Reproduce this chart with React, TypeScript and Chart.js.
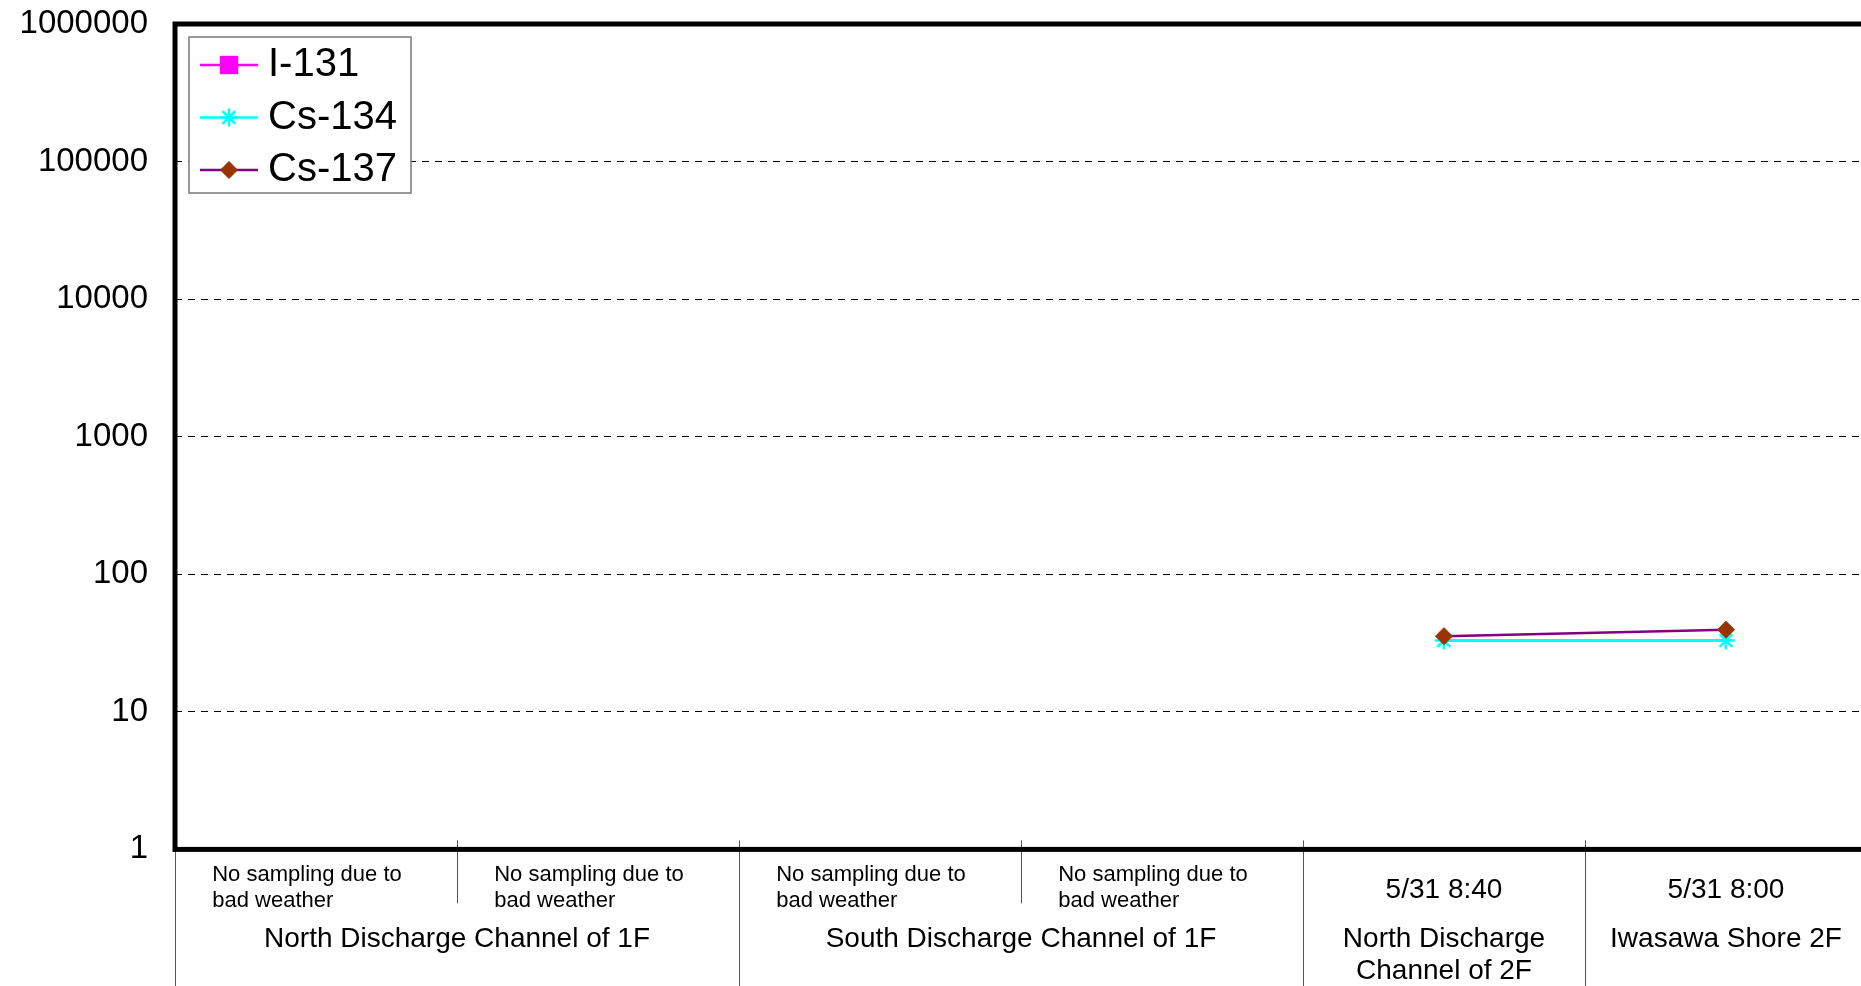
import React, { useEffect, useRef } from 'react';
import { Chart, registerables } from 'chart.js';
import { drawPoint } from 'chart.js/helpers';

Chart.register(...registerables);

// ---- data ----
const sampleLabels: string[][] = [
  ['No sampling due to', 'bad weather'],
  ['No sampling due to', 'bad weather'],
  ['No sampling due to', 'bad weather'],
  ['No sampling due to', 'bad weather'],
  ['5/31 8:40'],
  ['5/31 8:00'],
];
const groupLabels: string[][] = [
  ['North Discharge Channel of 1F'],
  ['South Discharge Channel of 1F'],
  ['North Discharge', 'Channel of 2F'],
  ['Iwasawa Shore 2F'],
];
const groupSpans: number[] = [2, 2, 1, 1];
const seriesNames: string[] = ['I-131', 'Cs-134', 'Cs-137'];
const i131Values: (number | null)[] = [null, null, null, null, null, null];
const cs134Values: (number | null)[] = [null, null, null, null, 33, 33];
const cs137Values: (number | null)[] = [null, null, null, null, 35.5, 39.5];
const yTickValues: number[] = [1, 10, 100, 1000, 10000, 100000, 1000000];

const FONT = "'Liberation Sans', Arial, Helvetica, sans-serif";
const W = 1870;
const H = 986;

const decorPlugin = {
  id: 'decor',
  afterDraw(chart: any) {
    const { ctx, chartArea: ca, scales } = chart;
    const xs = scales.x;
    ctx.save();

    // category / group separators
    const n = sampleLabels.length;
    const step = xs.getPixelForValue(1) - xs.getPixelForValue(0);
    const groupStarts = new Set<number>();
    let acc = 0;
    groupSpans.forEach((s) => {
      groupStarts.add(acc);
      acc += s;
    });
    groupStarts.add(acc);
    ctx.strokeStyle = '#555';
    ctx.lineWidth = 1;
    for (let i = 0; i <= n; i++) {
      const bx = Math.round(xs.getPixelForValue(i) - step / 2) + 0.5;
      const yEnd = groupStarts.has(i) ? chart.height : ca.bottom + 54;
      ctx.beginPath();
      ctx.moveTo(bx, ca.bottom - 9);
      ctx.lineTo(bx, yEnd);
      ctx.stroke();
    }

    // plot border
    ctx.strokeStyle = '#000';
    ctx.lineWidth = 5;
    ctx.strokeRect(ca.left, ca.top, ca.right - ca.left, ca.bottom - ca.top);

    // first-row category labels
    ctx.fillStyle = '#000';
    ctx.textBaseline = 'alphabetic';
    for (let i = 0; i < n; i++) {
      const cx = xs.getPixelForValue(i);
      const lines = sampleLabels[i];
      if (lines.length > 1) {
        ctx.font = `22px ${FONT}`;
        const maxW = Math.max(...lines.map((l) => ctx.measureText(l).width));
        ctx.textAlign = 'left';
        const lx = cx - maxW / 2 - 9;
        lines.forEach((l, k) => ctx.fillText(l, lx, ca.bottom + 31.3 + k * 26));
      } else {
        ctx.font = `28px ${FONT}`;
        ctx.textAlign = 'center';
        ctx.fillText(lines[0], cx, ca.bottom + 48.3);
      }
    }

    // group labels
    ctx.font = `28px ${FONT}`;
    ctx.textAlign = 'center';
    let start = 0;
    groupSpans.forEach((s, g) => {
      const gx = (xs.getPixelForValue(start) + xs.getPixelForValue(start + s - 1)) / 2;
      groupLabels[g].forEach((l, k) => ctx.fillText(l, gx, ca.bottom + 97.5 + k * 32.5));
      start += s;
    });

    // legend
    const lx = ca.left + 14;
    const ly = ca.top + 13;
    const lw = 222;
    const lh = 156;
    ctx.fillStyle = '#fff';
    ctx.fillRect(lx, ly, lw, lh);
    ctx.strokeStyle = '#777';
    ctx.lineWidth = 1.5;
    ctx.strokeRect(lx, ly, lw, lh);
    const rowGap = 52.5;
    seriesNames.forEach((name, i) => {
      const ds = chart.data.datasets[i];
      const ry = ly + 28 + i * rowGap;
      ctx.strokeStyle = ds.borderColor;
      ctx.lineWidth = 2.5;
      ctx.beginPath();
      ctx.moveTo(lx + 11, ry);
      ctx.lineTo(lx + 69, ry);
      ctx.stroke();
      ctx.fillStyle = ds.pointBackgroundColor || ds.backgroundColor;
      ctx.strokeStyle = ds.pointBorderColor || ds.borderColor;
      ctx.lineWidth = ds.pointBorderWidth;
      drawPoint(ctx, { pointStyle: ds.pointStyle, radius: ds.pointRadius, borderWidth: ds.pointBorderWidth, rotation: 0 } as any, lx + 40, ry);
      ctx.fillStyle = '#000';
      ctx.font = `40px ${FONT}`;
      ctx.textAlign = 'left';
      ctx.textBaseline = 'middle';
      ctx.fillText(name, lx + 79, ry);
    });

    ctx.restore();
  },
};

export default function App() {
  const ref = useRef<HTMLCanvasElement | null>(null);

  useEffect(() => {
    if (!ref.current) return;
    const chart = new Chart(ref.current, {
      type: 'line',
      data: {
        labels: sampleLabels.map((l) => l.join(' ')),
        datasets: [
          {
            label: seriesNames[0],
            data: i131Values,
            borderColor: '#FF00FF',
            backgroundColor: '#FF00FF',
            pointBackgroundColor: '#FF00FF',
            pointBorderColor: '#FF00FF',
            borderWidth: 2,
            pointStyle: 'rect',
            pointRadius: 13,
            pointBorderWidth: 0,
            order: 2,
          },
          {
            label: seriesNames[1],
            data: cs134Values,
            borderColor: '#00FFFF',
            backgroundColor: '#00FFFF',
            pointBackgroundColor: '#00FFFF',
            pointBorderColor: '#00FFFF',
            borderWidth: 3,
            pointStyle: 'star',
            pointRadius: 9,
            pointBorderWidth: 2.5,
            order: 1,
          },
          {
            label: seriesNames[2],
            data: cs137Values,
            borderColor: '#800080',
            backgroundColor: '#993300',
            pointBackgroundColor: '#993300',
            pointBorderColor: '#993300',
            borderWidth: 2.5,
            pointStyle: 'rectRot',
            pointRadius: 8.5,
            pointBorderWidth: 1,
            order: 0,
          },
        ] as any,
      },
      options: {
        animation: false,
        responsive: false,
        events: [],
        layout: { autoPadding: false, padding: { top: 24, right: 3, left: 0, bottom: 0 } },
        plugins: {
          legend: { display: false },
          tooltip: { enabled: false },
        },
        scales: {
          x: {
            type: 'category',
            offset: true,
            grid: { display: false },
            border: { display: false },
            ticks: { display: false },
            afterFit: (s: any) => {
              s.height = 136.6;
              s.paddingLeft = 0;
              s.paddingRight = 0;
            },
          },
          y: {
            type: 'logarithmic',
            min: 1,
            max: 1000000,
            afterBuildTicks: (s: any) => {
              s.ticks = yTickValues.map((v) => ({ value: v }));
            },
            afterFit: (s: any) => {
              s.width = 175;
              s.paddingTop = 0;
              s.paddingBottom = 0;
            },
            grid: { color: '#000', lineWidth: 1, drawTicks: false },
            border: { display: false, dash: [7, 6] },
            ticks: {
              color: '#000',
              padding: 27,
              font: { family: FONT, size: 33 },
              callback: (v: any) => String(v),
            },
          },
        },
      } as any,
      plugins: [decorPlugin],
    });
    return () => chart.destroy();
  }, []);

  return (
    <div
      style={{
        position: 'fixed',
        left: 0,
        top: 0,
        width: 1861,
        height: H,
        overflow: 'hidden',
        background: '#fff',
      }}
    >
      <canvas ref={ref} width={W} height={H} style={{ display: 'block', width: W, height: H }} />
    </div>
  );
}
